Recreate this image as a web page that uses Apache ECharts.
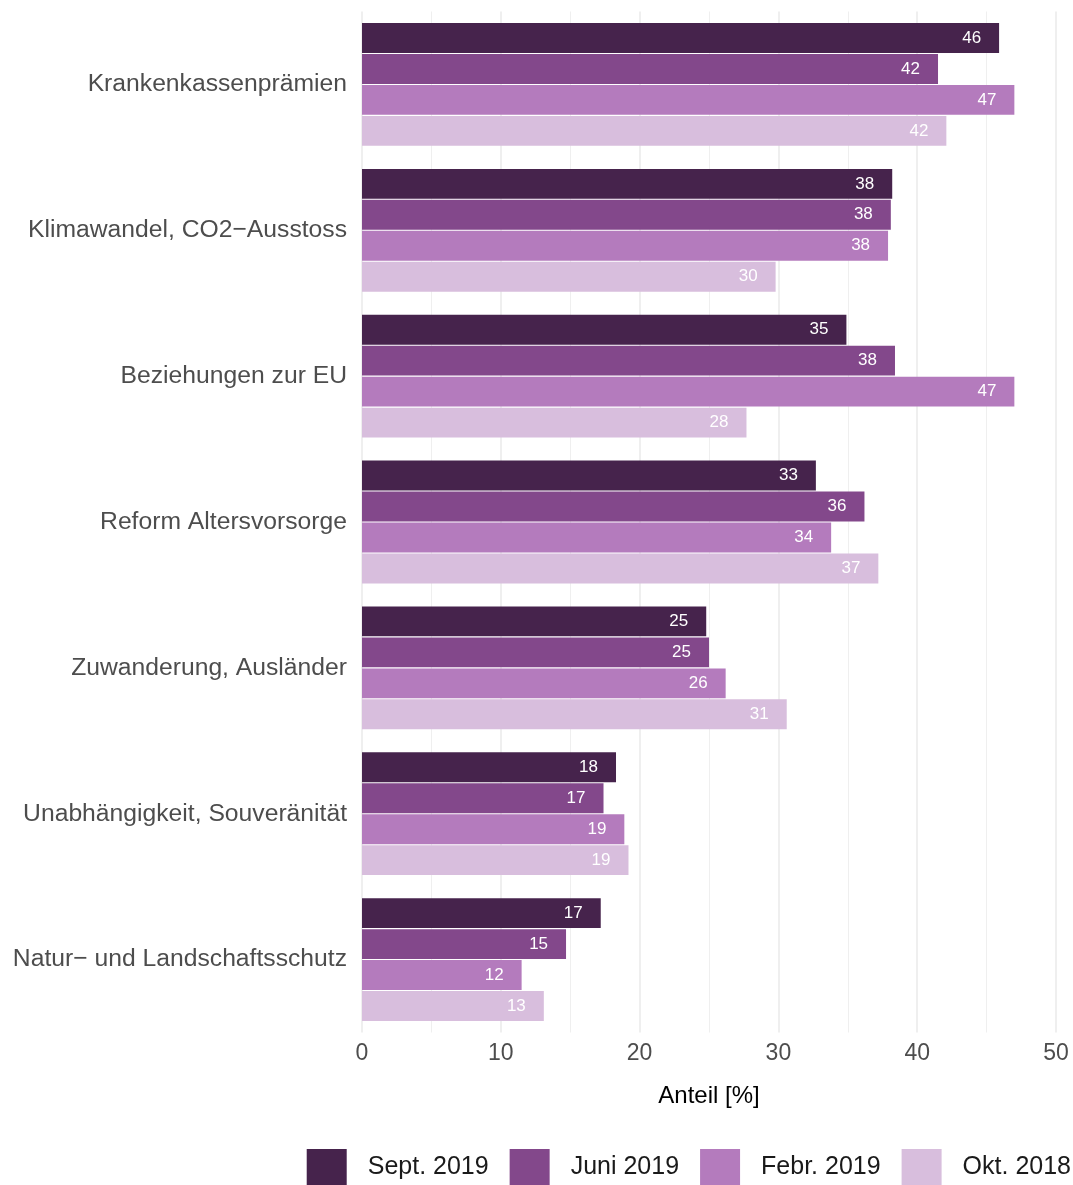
<!DOCTYPE html>
<html>
<head>
<meta charset="utf-8">
<script src="https://cdn.jsdelivr.net/npm/echarts@6/dist/echarts.min.js"></script>
<style>
html,body{margin:0;padding:0;background:#fff;}
#chart{width:1073px;height:1185px;}
</style>
</head>
<body>
<div id="chart"></div>
<script>
const categories = [
  "Krankenkassenprämien",
  "Klimawandel, CO2−Ausstoss",
  "Beziehungen zur EU",
  "Reform Altersvorsorge",
  "Zuwanderung, Ausländer",
  "Unabhängigkeit, Souveränität",
  "Natur− und Landschaftsschutz"
];
const seriesNames = ["Sept. 2019", "Juni 2019", "Febr. 2019", "Okt. 2018"];
const sept2019 = [45.9, 38.2, 34.9, 32.7, 24.8, 18.3, 17.2];
const juni2019 = [41.5, 38.1, 38.4, 36.2, 25.0, 17.4, 14.7];
const febr2019 = [47.0, 37.9, 47.0, 33.8, 26.2, 18.9, 11.5];
const okt2018  = [42.1, 29.8, 27.7, 37.2, 30.6, 19.2, 13.1];
const xTicks = [0, 10, 20, 30, 40, 50];
const colors = ["#46234c", "#83488b", "#b47bbd", "#d8bedd"];

const values = [sept2019, juni2019, febr2019, okt2018];
const FONT = "Liberation Sans, Arial, Helvetica, sans-serif";

const chart = echarts.init(document.getElementById('chart'), null, {renderer: 'canvas'});
const option = {
  backgroundColor: '#ffffff',
  animation: false,
  textStyle: {fontFamily: FONT},
  grid: {left: 362, right: 17, top: 11.5, height: 1021, containLabel: false},
  legend: {
    data: seriesNames,
    right: 2,
    top: 1149,
    padding: 0,
    itemWidth: 40,
    itemHeight: 36,
    itemGap: 21,
    icon: 'rect',
    textStyle: {fontSize: 25, color: '#1a1a1a', fontFamily: FONT, padding: [4, 0, 0, 16]}
  },
  xAxis: {
    type: 'value',
    min: xTicks[0],
    max: xTicks[xTicks.length - 1],
    interval: 10,
    name: 'Anteil [%]',
    nameLocation: 'middle',
    nameGap: 52,
    nameTextStyle: {fontSize: 24, color: '#000000', fontFamily: FONT},
    axisLine: {show: false},
    axisTick: {show: false},
    axisLabel: {fontSize: 23, color: '#4d4d4d', margin: 10, fontFamily: FONT},
    splitLine: {show: true, lineStyle: {color: '#ebebeb', width: 1.6}},
    minorTick: {show: false, splitNumber: 2},
    minorSplitLine: {show: true, lineStyle: {color: '#ebebeb', width: 0.8}}
  },
  yAxis: {
    type: 'category',
    data: categories,
    inverse: true,
    axisLine: {show: false},
    axisTick: {show: false},
    splitLine: {show: false},
    axisLabel: {fontSize: 24.7, color: '#4d4d4d', margin: 15, fontFamily: FONT, padding: [5, 0, 0, 0]}
  },
  series: seriesNames.map((name, i) => ({
    name: name,
    type: 'bar',
    data: values[i],
    itemStyle: {color: colors[i]},
    barCategoryGap: '15.8%',
    barGap: '3.5%',
    label: {
      show: true,
      position: 'insideRight',
      distance: 18,
      color: '#ffffff',
      fontSize: 17,
      fontFamily: FONT,
      formatter: p => Math.round(p.value)
    }
  }))
};
chart.setOption(option);
</script>
</body>
</html>
